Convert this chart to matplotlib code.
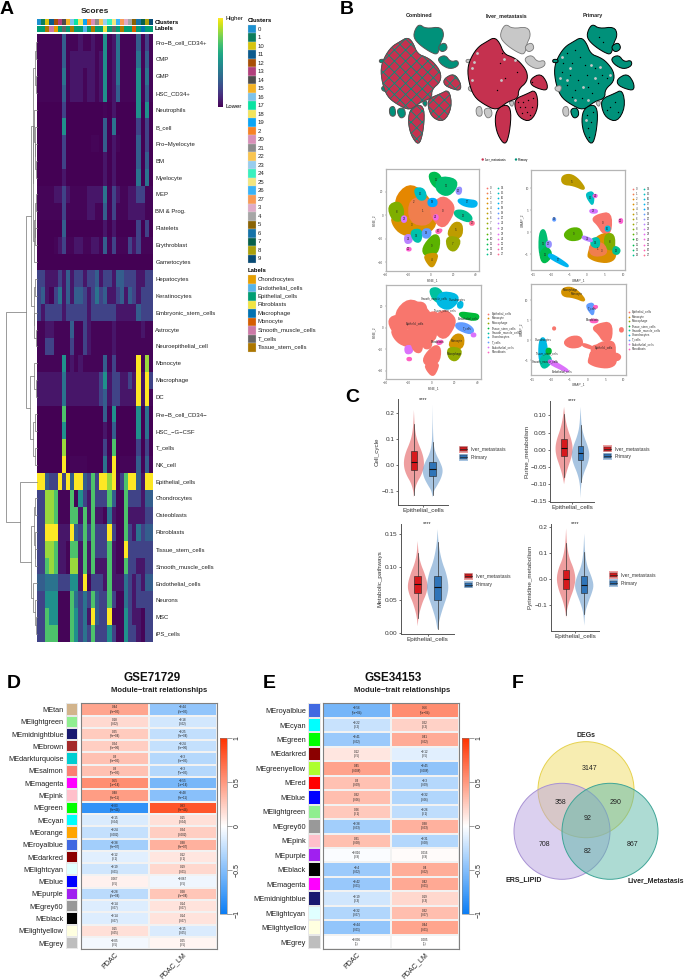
import numpy as np
import matplotlib
matplotlib.use("Agg")
import matplotlib.pyplot as plt
from matplotlib.colors import LinearSegmentedColormap, ListedColormap, to_rgb
from matplotlib.patches import Polygon, Rectangle, Circle
from matplotlib.cm import ScalarMappable
from matplotlib.colors import Normalize

plt.rcParams['font.family'] = ['Liberation Sans', 'DejaVu Sans']
plt.rcParams['hatch.linewidth'] = 0.6
W, H = 685, 980

# ---------- A: scores ----------
score_rows = ["Pro\u2212B_cell_CD34+", "CMP", "GMP", "HSC_CD34+", "Neutrophils", "B_cell", "Pro\u2212Myelocyte", "BM", "Myelocyte",
              "MEP", "BM & Prog.", "Platelets", "Erythroblast", "Gametocytes", "Hepatocytes", "Keratinocytes",
              "Embryonic_stem_cells", "Astrocyte", "Neuroepithelial_cell", "Monocyte", "Macrophage", "DC",
              "Pre\u2212B_cell_CD34\u2212", "HSC_\u2212G\u2212CSF", "T_cells", "NK_cell", "Epithelial_cells", "Chondrocytes",
              "Osteoblasts", "Fibroblasts", "Tissue_stem_cells", "Smooth_muscle_cells", "Endothelial_cells",
              "Neurons", "MSC", "iPS_cells"]
score_levels = [0, .015, .06, .2, .3, .38, .5, .72, .85, 1.0]
score_digits = [
    "1111114111211211612511114131",
    "1111114122222212612511115141",
    "1111115122212212612511116151",
    "1111114122212212612411116141",
    "0000003000000000102000006060",
    "0000006000000000405000003030",
    "0000003000000110402100004030",
    "0000003000000000202000004040",
    "0000002000000000202000005050",
    "1111223211112222513211223311",
    "1111113111112211413111222211",
    "0000004000000000202000003030",
    "0000123112211221413111323111",
    "0000000000000000000000000000",
    "3322232423323342332443332233",
    "3421352424432353422342432333",
    "3233332333332333333222224333",
    "1122111141132111112111111211",
    "1133111131132111112111111111",
    "1111116121211111413111119181",
    "2222225222222223623322329293",
    "2222225222222223423322229291",
    "0000007000000000406000006050",
    "0000006000000000204000006050",
    "0000008000000000307000003030",
    "0000009011110000519011114141",
    "9943393949943739989137994299",
    "3388711171632733374117333244",
    "3388711177272722152117222233",
    "3399922294373733393117325344",
    "3388722177272733372119333333",
    "3378722188272722272117332233",
    "4455533366291333272225323244",
    "3366611175353743373115323333",
    "3376611176352943391116322133",
    "3377711176353733363116332133",
]
scores = np.array([[score_levels[int(c)] for c in row] for row in score_digits])
cluster_order = [0, 1, 10, 11, 12, 13, 14, 15, 16, 17, 18, 19, 2, 20, 21, 22, 23, 24, 25, 26, 27, 3, 4, 5, 6, 7, 8, 9]
cluster_colors = ["#1b90d0", "#0b7d5c", "#d6c40e", "#0b5a8c", "#a84f06", "#b23f7d", "#4d4d4d", "#f4b324", "#7dc2ea",
                  "#08e3a2", "#f2e45c", "#0aa5f5", "#f78225", "#d88fb8", "#8c8c8c", "#f9c550", "#98cdee", "#38f0be",
                  "#f2e67f", "#38b3f7", "#f99a55", "#deaac8", "#a6a6a6", "#8a6305", "#1572a8", "#06604a", "#aaa00a", "#074b75"]
label_names = ["Chondrocytes", "Endothelial_cells", "Epithelial_cells", "Fibroblasts", "Macrophage", "Monocyte",
               "Smooth_muscle_cells", "T_cells", "Tissue_stem_cells"]
label_colors = ["#E69F00", "#56B4E9", "#009E73", "#F0E442", "#0072B2", "#D55E00", "#CC79A7", "#666666", "#AD7700"]
column_labels = [2, 2, 8, 6, 0, 2, 7, 2, 8, 2, 2, 1, 2, 8, 2, 2, 3, 2, 7, 2, 8, 2, 2, 5, 2, 4, 2, 2]
dendro = (31, (10.5, (6, (4, (2, (1, 0, 1), (1, 2, 3)),
                          (3.5, (3, 4, (2, 5, (1.5, 6, (1, 7, 8)))), (3, (2, (1, 9, 10), (1.5, 11, 12)), 13))),
                      (3, (1.5, 14, 15), (2.5, 16, (1, 17, 18)))),
               (7, (2.5, 19, (1, 20, 21)), (3.5, (2, 22, 23), (1.5, 24, 25)))),
          (17, 26, (6, (3, (1.5, 27, 28), (2, 29, (1.5, 30, 31))), (4, 32, (2, 33, (1, 34, 35))))))

# ---------- B: tSNE outlines by sample ----------
blob_main = [(185,140),(210,125),(232,112),(248,126),(262,162),(290,172),(310,186),(332,215),(332,245),(305,268),(305,295),(272,305),(240,332),(200,312),(172,290),(157,250),(152,205),(164,170)]
blob_top = [(255,88),(268,72),(287,86),(333,80),(343,105),(330,132),(324,165),(300,156),(268,134),(250,112)]
blob_top_small = [(322,140),(345,126),(354,146),(335,158)]
blob_tail = [(322,175),(346,164),(362,186),(384,180),(386,198),(360,208),(333,194)]
blob_right = [(342,236),(372,220),(392,248),(392,272),(365,266),(342,254)]
blob_left_a = [(148,178),(164,178),(164,188),(148,188)]
blob_left_b = [(154,260),(175,255),(172,276),(156,272)]
blob_lower = [(296,296),(330,282),(358,268),(366,322),(342,366),(308,354),(294,322)]
blob_bottom = [(242,325),(272,312),(284,335),(279,398),(266,438),(242,404),(234,360)]
blob_sm_a = [(177,323),(194,317),(198,348),(180,349)]
blob_sm_b = [(199,328),(222,322),(228,347),(210,357)]
blob_sm_c = [(275,306),(293,302),(287,323)]
all_blobs = [blob_main, blob_top, blob_top_small, blob_tail, blob_right, blob_left_a, blob_left_b, blob_lower, blob_bottom, blob_sm_a, blob_sm_b, blob_sm_c]
liver_blobs = [blob_main, blob_right, blob_lower, blob_bottom]
combined_red = [blob_main, blob_bottom, blob_right, blob_lower]
primary_grey = [blob_left_b, blob_sm_a, blob_sm_c]
primary_specks_x = [190,205,215,230,245,200,225,250,275,295,285,255,215,190,175,235,265,205,180,310,250,262,255,268,258,320,335,345,310,288,300]
primary_specks_y = [160,190,150,170,195,225,240,225,205,225,250,260,270,255,215,295,280,290,190,235,345,365,385,335,410,320,305,335,330,110,125]
primary_holes_x = [175,190,200,262,240,275,170,215,290,255,248,320]
primary_holes_y = [170,240,205,195,260,235,235,300,200,300,360,225]
liver_specks_x = [310,320,335,345,330,315,350,340,325,305,250,265,255,240,300,345]
liver_specks_y = [320,305,300,320,335,340,295,345,320,305,190,235,160,270,215,245]
liver_holes_x = [165,172,180,262,252,295,165]
liver_holes_y = [205,185,160,178,240,180,240]
sample_names = ["Combined", "liver_metastasis", "Primary"]
RED_S, GREEN_S = "#c5314f", "#00917a"

# ---------- B: clusters on tSNE (cluster, cell type index, outline) ----------
hue = ["#F8766D","#F07E4D","#E58700","#DA8F00","#CD9600","#BE9C00","#AEA200","#9AA800","#7FAE00","#5BB300","#00B81F","#00BB4E","#00BE70","#00C08E",
       "#00C1AB","#00BFC4","#00BBDC","#00B4F0","#00A9FF","#619CFF","#9590FF","#B983FF","#D575FE","#E76BF3","#F564E3","#FD61D1","#FF64B0","#FF6C91"]
type_names = ["Epithelial_cells","Monocyte","Macrophage","Tissue_stem_cells","Smooth_muscle_cells","Chondrocytes","T_cells","Endothelial_cells","Fibroblasts"]
type_colors = ["#F8766D","#D39200","#93AA00","#00BA38","#00C19F","#00B9E3","#619CFF","#DB72FB","#FF61C3"]
tsne_clusters = [
    (2,0,[(-32,14),(-20,27),(-6.5,20),(2,8),(-6,-3),(-28,0)]),
    (3,0,[(-35,-1),(-21,-3),(3,-1),(4,-11),(-12,-19),(-26,-16),(-33,-9)]),
    (1,0,[(-19,14),(-2,15),(4,4.5),(-2,-9),(-19,-6)]),
    (8,0,[(-38,8),(-28.5,12),(-24,4.5),(-26,-5),(-34,-4)]),
    (0,0,[(0,7),(10,17),(20,10),(20,1.5),(11,-12),(1,-2)]),
    (11,4,[(-2,35),(4,37),(9,33),(11,22),(2,25)]),
    (12,5,[(7,33),(22.5,31),(22.5,23),(14,16),(4,22)]),
    (15,0,[(-15,23),(-6,23),(-4,14),(-11,13)]),
    (18,0,[(-2,14),(5,14),(5,8),(-2,8)]),
    (17,3,[(26,14),(33,13),(41,12),(40,7),(30,8),(24,12)]),
    (13,6,[(21,4),(30,4),(37,-2),(34,-6),(22,-1)]),
    (20,5,[(23,23),(27,24),(26.5,18.5),(23,18.5)]),
    (21,7,[(-23,-17),(-17,-17),(-17,-23),(-22.5,-24)]),
    (14,0,[(-18,-13),(-8,-12),(-9,-23),(-15,-22)]),
    (19,0,[(-7,-12),(0,-12),(-1,-19),(-7,-19)]),
    (5,1,[(14,-18),(20,-6),(28,-7),(27,-20)]),
    (7,2,[(14,-18),(27,-20),(22,-31),(15,-28.5)]),
    (9,0,[(-7.5,-28),(2.5,-16),(8,-19),(6,-33),(-5,-35)]),
    (4,0,[(-5.5,-34),(6,-32.5),(4.5,-39),(1,-45),(-4,-39)]),
    (24,0,[(3,0),(6,0),(6,-3.5),(3,-3.5)]),
    (22,0,[(-25.5,-1),(-22,-1),(-22,-5.5),(-25.5,-5.5)]),
    (25,8,[(-21,-28),(-18,-28),(-18,-30),(-21,-30)]),
    (26,8,[(5,-12.5),(10,-12),(8,-15),(5,-15)]),
    (27,7,[(35,-5.5),(38,-5.5),(38,-8),(35,-8)]),
]
umap_clusters = [
    (5,1,[(-7,12.7),(-4.7,13.2),(-2.4,12),(-0.3,9.5),(-3.8,10.8),(-6.8,11)]),
    (15,6,[(0,8.9),(1.8,9.2),(1.6,6.2),(0.8,7),(0,8.1)]),
    (24,8,[(1.8,8.5),(2.7,8.5),(2.5,8),(1.8,8.1)]),
    (0,0,[(1.4,3),(3.1,4),(6.6,4.5),(6.6,0),(4.5,-0.3),(3.1,1.7)]),
    (22,8,[(0.8,5.1),(2.7,5.1),(2.7,4.5),(1,4.5)]),
    (3,0,[(0.2,-5.2),(1.8,-1.5),(5.5,0),(7.5,-2.5),(8,-5.7),(5.9,-6.8),(2.7,-6.5),(0.8,-5.8)]),
    (8,0,[(5,-0.4),(7.5,-0.4),(7.5,-4),(5,-3.6)]),
    (1,0,[(0.6,-2.7),(4.5,-2.3),(5.7,-5),(1.1,-5.4)]),
    (13,0,[(7.6,-3.1),(9.2,-3.9),(8.5,-5),(7.1,-4.6)]),
    (14,0,[(1.2,-1.5),(3.3,-1.2),(3.3,-3.5),(1.2,-3.1)]),
    (9,0,[(-6.6,-0.6),(-4.7,0.9),(-1.8,0.9),(-1.3,-1.4),(-4.7,-1.9)]),
    (16,0,[(5.2,1.3),(6.2,1.3),(6.2,0.4),(5.2,0.4)]),
    (21,0,[(-1.2,-0.8),(1.3,-1.6),(1.3,-2.1),(-1.2,-1.4)]),
    (12,5,[(-13.2,-0.2),(-11.9,0.9),(-11,-2.5),(-11.2,-6.5),(-13.2,-5.4)]),
    (11,4,[(-13.2,-4.8),(-11.2,-3.1),(-9.6,-5.2),(-12.1,-7.3)]),
    (17,7,[(-10.3,-4.7),(-5.4,-7.3),(-5.4,-7.9),(-10.8,-5.6)]),
    (20,3,[(-11.2,-2.1),(-10.1,-2.1),(-10.1,-3.3),(-11.2,-3.3)]),
    (19,0,[(-9.4,3.2),(-8.9,3.2),(-8.9,2.7),(-9.4,2.7)]),
    (25,0,[(9,3),(9.7,3),(9.7,2.2),(9,2.2)]),
]
tsne_type_labels = [("Epithelial_cells",-15,3),("Smooth_muscle_cells",2,27),("Chondrocytes",22,26),("Tissue_stem_cells",12,16),
                    ("Endothelial_cells",32,9),("T_cells",31,-1),("Fibroblasts",5,-13),("Monocyte",22,-12),("Macrophage",20,-24)]
umap_type_labels = [("Macrophage",-4.8,12.5),("Monocyte",-3,11.5),("T_cells",1.2,8),("Fibroblasts",1.5,5),("Epithelial_cells",4.5,-2),
                    ("Chondrocytes",-12,0),("Tissue_stem_cells",-11,-3.3),("Smooth_muscle_cells",-11.5,-5.2),("Endothelial_cells",-7,-7.6)]

# ---------- C: violins ----------
violin_names = ["Cell_cycle", "Purine_metabolism", "Metabolic_pathways", "Pyrimidine_metabolism"]
v1_red_y = [-.125,-.10,-.07,-.04,-.01,.02,.05,.08,.11,.15,.21]
v1_red_w = [0,.015,.07,.18,.24,.24,.19,.11,.05,.015,0]
v1_blu_y = [-.125,-.10,-.08,-.05,-.02,.01,.04,.07,.10,.15,.23]
v1_blu_w = [0,.03,.11,.21,.25,.18,.08,.03,.015,.005,0]
v2_red_y = [-.10,-.08,-.05,-.02,.005,.03,.06,.09,.125]
v2_red_w = [0,.03,.11,.21,.24,.2,.1,.035,0]
v2_blu_y = [-.14,-.10,-.07,-.04,-.015,.01,.04,.07,.125]
v2_blu_w = [0,.015,.08,.2,.25,.2,.09,.025,0]
v3_red_y = [.01,.025,.045,.06,.073,.09,.105,.12,.14]
v3_red_w = [0,.02,.1,.2,.23,.16,.07,.02,0]
v3_blu_y = [.005,.02,.04,.055,.07,.09,.11,.135,.158]
v3_blu_w = [.005,.04,.13,.21,.25,.2,.09,.02,0]
v4_red_y = [-.15,-.12,-.08,-.04,0,.04,.08,.13,.195]
v4_red_w = [0,.02,.09,.19,.24,.19,.08,.02,0]
v4_blu_y = [-.18,-.13,-.09,-.055,-.025,.01,.05,.10,.175]
v4_blu_w = [0,.02,.1,.19,.24,.18,.07,.02,0]
v_boxes = [
    [(-.115,-.02,.012,.052,.155), (-.115,-.042,-.018,.011,.088)],
    [(-.08,-.017,.006,.031,.105), (-.095,-.03,-.01,.011,.072)],
    [(.023,.061,.074,.086,.122), (.006,.05,.07,.087,.139)],
    [(-.14,-.038,0,.034,.138), (-.135,-.055,-.022,.01,.105)],
]
v_profiles = [((v1_red_y,v1_red_w),(v1_blu_y,v1_blu_w)), ((v2_red_y,v2_red_w),(v2_blu_y,v2_blu_w)),
              ((v3_red_y,v3_red_w),(v3_blu_y,v3_blu_w)), ((v4_red_y,v4_red_w),(v4_blu_y,v4_blu_w))]
v_ylims = [(-.155,.251), (-.151,.143), (-.002,.166), (-.2,.212)]
v_ticks = [[-.1,0,.1,.2], [-.15,-.1,-.05,0,.05,.1], [0,.05,.1,.15], [-.1,0,.1,.2]]
v_ticklabels = [["\u22120.1","0.0","0.1","0.2"], ["\u22120.15","\u22120.10","\u22120.05","0.00","0.05","0.10"],
                ["0.00","0.05","0.10","0.15"], ["\u22120.1","0.0","0.1","0.2"]]

# ---------- D, E: module-trait ----------
d_modules = ["tan","lightgreen","midnightblue","brown","darkturquoise","salmon","magenta","pink","green","cyan","orange","royalblue",
             "darkred","lightcyan","blue","purple","grey60","black","lightyellow","grey"]
d_values = [.44,.18,.25,.24,.3,.3,.55,.48,-.83,-.15,-.24,-.38,-.12,-.19,.067,-.28,-.14,-.14,.15,-.05]
d_text = ["0.44","0.18","0.25","0.24","0.3","0.3","0.55","0.48","\u22120.83","\u22120.15","\u22120.24","\u22120.38","\u22120.12","\u22120.19","0.067","\u22120.28","\u22120.14","\u22120.14","0.15","\u22120.05"]
d_text2 = ["\u22120.44","\u22120.18","\u22120.25","\u22120.24","\u22120.3","\u22120.3","\u22120.55","\u22120.48","0.83","0.15","0.24","0.38","0.12","0.19","\u22120.067","0.28","0.14","0.14","\u22120.15","0.05"]
d_p = ["2e\u221205","0.02","3e\u221204","6e\u221206","6e\u221205","7e\u221205","1e\u221214","3e\u221211","3e\u221244","0.04","0.002","3e\u221207","0.1","0.01","0.5","2e\u221204","0.07","0.07","0.05","0.5"]
e_modules = ["royalblue","cyan","green","darkred","greenyellow","red","blue","lightgreen","grey60","pink","purple","black","magenta","midnightblue","lightcyan","lightyellow","grey"]
e_values = [-.56,-.22,-.41,.12,.45,.3,.32,.26,-.38,.31,-.016,-.4,-.42,-.19,-.32,-.44,-.005]
e_text = ["\u22120.56","\u22120.22","\u22120.41","0.12","0.45","0.3","0.32","0.26","\u22120.38","0.31","\u22120.016","\u22120.4","\u22120.42","\u22120.19","\u22120.32","\u22120.44","\u22120.005"]
e_text2 = ["0.56","0.22","0.41","\u22120.12","\u22120.45","\u22120.3","\u22120.32","\u22120.26","0.38","\u22120.31","0.016","0.4","0.42","0.19","0.32","0.44","0.005"]
e_p = ["5e\u221204","0.2","0.02","0.5","0.008","0.09","0.06","0.1","0.03","0.08","0.9","0.02","0.01","0.3","0.07","0.01","1"]
traits = ["PDAC", "PDAC_LM"]
r_colors = {"green":"#00ff00","purple":"#a020f0","grey60":"#999999","grey":"#bebebe","pink":"#ffc0cb","tan":"#d2b48c"}
corr_cmap = LinearSegmentedColormap.from_list("corr", ["#0A7DF5", "#ffffff", "#FF3300"])

# ---------- F: venn ----------
venn_counts = ["3147", "358", "290", "92", "708", "82", "867"]
venn_sets = ["DEGs", "ERS_LIPID", "Liver_Metastasis"]

# ---------- helpers ----------
fig = plt.figure(figsize=(W/100, H/100), dpi=100, facecolor="white")
def axpx(x0, y0, x1, y1, **kw):
    return fig.add_axes([x0/W, 1-y1/H, (x1-x0)/W, (y1-y0)/H], **kw)
ov = fig.add_axes([0, 0, 1, 1], zorder=20)
ov.set_xlim(0, W); ov.set_ylim(H, 0); ov.axis("off"); ov.patch.set_alpha(0)
def T(x, y, s, fs=4.3, ha="left", va="center", **kw):
    ov.text(x, y, s, fontsize=fs, ha=ha, va=va, **kw)
for s, x, y in [("A", 0, 9), ("B", 340, 9), ("C", 345, 397.5), ("D", 7, 683.5), ("E", 263, 683.5), ("F", 512, 683.5)]:
    T(x, y, s, fs=14, fontweight="bold")
def rounded(pts, n=3):
    p = np.array(pts, dtype=float)
    for _ in range(n):
        q = np.roll(p, -1, axis=0)
        p = np.column_stack([.75*p+.25*q, .25*p+.75*q]).reshape(-1, 2)
    return p

# ---------- A ----------
axA = axpx(37, 34, 152.7, 642)
axA.imshow(scores, aspect="auto", cmap="viridis", vmin=0, vmax=1, interpolation="nearest")
axA.yaxis.tick_right()
axA.set_yticks(range(len(score_rows)), score_rows, fontsize=4.3, color="#222222")
axA.set_xticks([])
axA.tick_params(axis="y", length=0, pad=2)
for sp in axA.spines.values():
    sp.set_visible(False)
axC = axpx(37, 18.7, 152.7, 24.7)
axC.imshow(np.array([[to_rgb(cluster_colors[i]) for i in range(28)]]), aspect="auto", interpolation="nearest")
axC.axis("off")
axL = axpx(37, 25.7, 152.7, 32.3)
axL.imshow(np.array([[to_rgb(label_colors[i]) for i in column_labels]]), aspect="auto", interpolation="nearest")
axL.axis("off")
T(154.7, 22, "Clusters", fs=4.3, fontweight="bold")
T(154.7, 29, "Labels", fs=4.3, fontweight="bold")
T(95, 11.5, "Scores", fs=6, ha="center", fontweight="bold", color="#222222")
cb = axpx(218, 18, 223.3, 107)
fig.colorbar(ScalarMappable(Normalize(0, 1), "viridis"), cax=cb, ticks=[]).outline.set_visible(False)
T(226, 18.5, "Higher", fs=4.3); T(226, 107, "Lower", fs=4.3)
T(248, 20.5, "Clusters", fs=4.3, fontweight="bold")
for i, (c, col) in enumerate(zip(cluster_order, cluster_colors)):
    ov.add_patch(Rectangle((248, 25+i*8.5), 8, 8.5, fc=col, ec="#dddddd", lw=.2))
    T(258, 29.3+i*8.5, str(c), fs=4.3, color="#222222")
T(248, 270.7, "Labels", fs=4.3, fontweight="bold")
for i, (n, col) in enumerate(zip(label_names, label_colors)):
    ov.add_patch(Rectangle((248, 275+i*8.5), 8, 8.5, fc=col, ec="#dddddd", lw=.2))
    T(258, 279.3+i*8.5, n, fs=4.3, color="#222222")
row_h = 608/36
def draw_tree(node):
    if isinstance(node, int):
        return 34+(node+.5)*row_h, 0
    h, a, b = node
    ya, ha_ = draw_tree(a)
    yb, hb_ = draw_tree(b)
    ov.plot([37-ha_, 37-h, 37-h, 37-hb_], [ya, ya, yb, yb], color="#808080", lw=.55, solid_joinstyle="miter")
    return (ya+yb)/2, h
draw_tree(dendro)

# ---------- B top ----------
def poly(ax, pts, fc, ec="black", lw=.7, hatch=None, z=2, n=2):
    ax.add_patch(Polygon(rounded(pts, n), closed=True, fc=fc, ec=ec, lw=lw, hatch=hatch, zorder=z, joinstyle="round"))
for k, name in enumerate(sample_names):
    ax = axpx(376.7+k*86.67, 20, 463.3+k*86.67, 146.7)
    ax.set_xlim(140, 400); ax.set_ylim(440, 60); ax.axis("off")
    for b in all_blobs:
        if k == 0:
            poly(ax, b, GREEN_S, ec="#555555")
            if b in combined_red:
                ax.add_patch(Polygon(rounded(b, 2), closed=True, fc=RED_S, ec=GREEN_S, lw=0, hatch="xxx", zorder=3))
                poly(ax, b, "none", ec="#555555", z=4)
        elif k == 1:
            if b in liver_blobs:
                poly(ax, b, RED_S, z=3)
            else:
                poly(ax, b, "#c8c8c8", ec="#777777", lw=.6)
        else:
            if b in primary_grey:
                poly(ax, b, "#c8c8c8", ec="#777777", lw=.6)
            else:
                poly(ax, b, GREEN_S)
    if k == 1:
        ax.scatter(liver_holes_x, liver_holes_y, s=4, c="#c8c8c8", lw=0, zorder=5)
        ax.scatter(liver_specks_x, liver_specks_y, s=1, c="black", lw=0, zorder=6)
    if k == 2:
        ax.scatter(primary_holes_x, primary_holes_y, s=4, c="#c8c8c8", lw=0, zorder=5)
        ax.scatter(primary_specks_x, primary_specks_y, s=1, c="black", lw=0, zorder=6)
    T(419.3+k*86.67, 15.7, name, fs=3.9, ha="center", fontweight="bold", color="#222222")
ov.scatter([482.7, 516], [159.5, 159.5], s=3, c=[RED_S, GREEN_S], lw=0)
T(484.5, 159.5, "liver_metastasis", fs=2.2); T(518, 159.5, "Primary", fs=2.2)

def embed_panel(rect, clusters, lims, xticks, yticks, xl, yl, by_type, labels=None):
    ax = axpx(*rect)
    ax.set_xlim(lims[0], lims[1]); ax.set_ylim(lims[2], lims[3])
    for c, t, pts in clusters:
        col = type_colors[t] if by_type else hue[c]
        poly(ax, pts, col, ec=col, lw=1.6)
        if not by_type:
            p = np.array(pts)
            ax.text(p[:, 0].mean(), p[:, 1].mean(), str(c), fontsize=2, ha="center", va="center", color="#222222", zorder=5)
    if by_type:
        for n, x, y in labels:
            ax.text(x, y, n, fontsize=2, ha="center", va="center", color="#222222", zorder=5)
    ax.set_xticks(xticks, [str(v).replace("-", "\u2212") for v in xticks])
    ax.set_yticks(yticks, [str(v).replace("-", "\u2212") for v in yticks])
    ax.tick_params(length=1, width=.3, labelsize=2.2, pad=.8, color="#666666", labelcolor="#555555")
    ax.set_xlabel(xl, fontsize=2.4, labelpad=1, color="#444444")
    ax.set_ylabel(yl, fontsize=2.4, labelpad=1, color="#444444")
    for sp in ax.spines.values():
        sp.set_color("#b5b5b5"); sp.set_linewidth(.9)
tl = (-39.7, 43, -47.4, 39.4)
ul = (-15.5, 10.6, -8.6, 14.1)
embed_panel((385.7, 169.3, 479.3, 270.7), tsne_clusters, tl, [-40,-20,0,20,40], [-40,-20,0,20], "tSNE_1", "tSNE_2", False)
embed_panel((531.3, 170.3, 625.3, 270.3), umap_clusters, ul, [-15,-10,-5,0,5,10], [-5,0,5,10], "UMAP_1", "UMAP_2", False)
embed_panel((385.7, 285, 481, 379), tsne_clusters, tl, [-40,-20,0,20,40], [-40,-20,0,20], "tSNE_1", "tSNE_2", True, tsne_type_labels)
embed_panel((531, 283.5, 626, 375), umap_clusters, ul, [-15,-10,-5,0,5,10], [-5,0,5,10], "UMAP_1", "UMAP_2", True, umap_type_labels)
for x0, x1 in [(486.7, 498), (632.7, 644)]:
    for i in range(14):
        for j, x in enumerate((x0, x1)):
            n = i+14*j
            ov.scatter([x], [187.7+i*5.1 if x0 < 600 else 189+i*5.05], s=1.6, c=hue[n], lw=0)
            T(x+3, 187.7+i*5.1 if x0 < 600 else 189+i*5.05, str(n), fs=2, color="#333333")
for i, (n, col) in enumerate(zip(type_names, type_colors)):
    ov.scatter([488.3], [313.7+i*4.75], s=1.6, c=col, lw=0)
    T(492, 313.7+i*4.75, n, fs=2.1, color="#333333")
    ov.scatter([628.7], [312.3+i*4.55], s=1.6, c=col, lw=0)
    T(631.7, 312.3+i*4.55, n, fs=2.1, color="#333333")

# ---------- C ----------
V_RED, V_BLU = "#d7191c", "#2f74b8"
c_rects = [(398.3, 399.3, 448.3, 505), (550.3, 400.7, 594.3, 501.7), (401, 524, 454.3, 634), (551, 524, 599.3, 630.7)]
c_legends = [(459.3, 449.3, 457.3), (603.3, 448.7, 456.3), (464.3, 576.3, 584.7), (609.3, 575, 583)]
for i, name in enumerate(violin_names):
    ax = axpx(*c_rects[i])
    ax.set_xlim(.4, 1.6); ax.set_ylim(*v_ylims[i])
    offs = (1-.225, 1+.225)
    for (yy, ww), x, col in zip(v_profiles[i], offs, (V_RED, V_BLU)):
        ww = np.array(ww); yy = np.array(yy)
        outline = np.column_stack([np.r_[x-ww, (x+ww)[::-1]], np.r_[yy, yy[::-1]]])
        ax.add_patch(Polygon(rounded(outline, 2), closed=True, fc=col, alpha=.42, lw=0))
    stats = [dict(whislo=b[0], q1=b[1], med=b[2], q3=b[3], whishi=b[4], fliers=[]) for b in v_boxes[i]]
    bp = ax.bxp(stats, positions=offs, widths=.16, patch_artist=True, showcaps=False, showfliers=False, manage_ticks=False,
                boxprops=dict(lw=.4, edgecolor="#222222"), whiskerprops=dict(lw=.5, color="#333333"), medianprops=dict(lw=.8, color="#111111"))
    for p, col in zip(bp["boxes"], (V_RED, V_BLU)):
        p.set_facecolor(col)
    ax.set_xticks([1], ["Epithelial_cells"])
    ax.set_yticks(v_ticks[i], v_ticklabels[i])
    ax.tick_params(labelsize=4.6, length=1.5, width=.5, pad=1, color="#333333", labelcolor="#333333")
    ax.set_ylabel(name, fontsize=4.5, labelpad=1.5, color="#333333")
    ax.spines[["top", "right"]].set_visible(False)
    ax.spines[["left", "bottom"]].set_color("#555555")
    ax.spines[["left", "bottom"]].set_linewidth(.7)
    ax.text(1, v_ylims[i][1], "****", fontsize=4, ha="center", va="center", color="#222222", clip_on=False)
    lx, ly0, ly1 = c_legends[i]
    for ly, col, n in ((ly0, V_RED, "liver_metastasis"), (ly1, V_BLU, "Primary")):
        ov.add_patch(Rectangle((lx, ly-3.6), 8.4, 7.2, fc=col, alpha=.42, lw=0))
        ov.add_patch(Rectangle((lx+1, ly-2), 6.4, 4, fc=col, ec="#333333", lw=.3))
        ov.plot([lx+1, lx+7.4], [ly, ly], color="#222222", lw=.5)
        T(lx+11.5, ly, n, fs=3.5, color="#333333")

# ---------- D, E ----------
def module_panel(hx0, hx1, sx0, sx1, mods, vals, t1, t2, ps, title, tx, sx, cbx0, lab_fs):
    n = len(mods)
    ax = axpx(hx0, 703.3, hx1, 949.3)
    data = np.column_stack([vals, -np.array(vals)])
    ax.pcolormesh(data, cmap=corr_cmap, vmin=-1, vmax=1, edgecolors="#f2f2f2", linewidth=.12)
    ax.invert_yaxis()
    for r in range(n):
        for c, s in enumerate((t1[r], t2[r])):
            ax.text(c+.5, r+.5, f"{s}\n({ps[r]})", fontsize=2.2, ha="center", va="center", color="#222222", linespacing=1.1)
    ax.set_yticks([])
    ax.set_xticks([.5, 1.5], traits, rotation=45, ha="right", rotation_mode="anchor", fontsize=5.1, color="#222222")
    ax.tick_params(axis="x", length=0, pad=1.5)
    for sp in ax.spines.values():
        sp.set_color("#808080"); sp.set_linewidth(.8)
    sw = axpx(sx0, 703.3, sx1, 949.3)
    cols = [r_colors.get(m, m) for m in mods]
    sw.pcolormesh(np.arange(n)[:, None], cmap=ListedColormap(cols), edgecolors="#e8e8e8", linewidth=.3)
    sw.invert_yaxis()
    sw.set_xticks([])
    sw.set_yticks(np.arange(n)+.5, ["ME"+m for m in mods], fontsize=lab_fs, color="#222222")
    sw.tick_params(axis="y", length=0, pad=1.8)
    for sp in sw.spines.values():
        sp.set_visible(False)
    T(tx, 678, title, fs=8.4, ha="center", fontweight="bold", color="#111111")
    T(sx, 690, "Module\u2212trait relationships", fs=5.6, ha="center", fontweight="bold", color="#222222")
    cax = axpx(cbx0, 738.3, cbx0+6.7, 914.3)
    cbar = fig.colorbar(ScalarMappable(Normalize(-1, 1), corr_cmap), cax=cax, ticks=[-1, -.5, 0, .5, 1])
    cbar.ax.set_yticklabels(["\u22121", "\u22120.5", "0", "0.5", "1"], rotation=90, va="center", fontsize=5, color="#222222")
    cbar.ax.tick_params(length=3.5, width=.4, pad=1.5, color="#555555")
    cbar.outline.set_edgecolor("#808080"); cbar.outline.set_linewidth(.4)
module_panel(80.7, 216.7, 66, 78, d_modules, d_values, d_text, d_text2, d_p, "GSE71729", 151.7, 159, 220, 5.3)
module_panel(322.7, 458.7, 308.3, 321, e_modules, e_values, e_text, e_text2, e_p, "GSE34153", 392.7, 401.7, 462.3, 5.3)

# ---------- F ----------
for (cx, cy), fc, ec in [((586, 789.7), "#f0dc64", "#e6d24e"), ((562, 831.3), "#b8a2e0", "#a892d4"), ((610, 831.3), "#5cb8a8", "#3fa597")]:
    ov.add_patch(Circle((cx, cy), 48, fc=matplotlib.colors.to_rgba(fc, .5), ec=ec, lw=.7))
for s, x, y in zip(venn_counts, [589, 560.5, 616, 587.5, 544.5, 587.5, 632.5], [768.7, 802.3, 802.3, 818.7, 844.3, 851, 844.3]):
    T(x, y, s, fs=5, ha="center", color="#222222")
T(585.7, 735, venn_sets[0], fs=5, ha="center", fontweight="bold", color="#222222")
T(505.7, 880, venn_sets[1], fs=5, fontweight="bold", color="#222222")
T(628, 880.5, venn_sets[2], fs=5, fontweight="bold", color="#222222")

fig.savefig("out.png", dpi=100, facecolor="white")
